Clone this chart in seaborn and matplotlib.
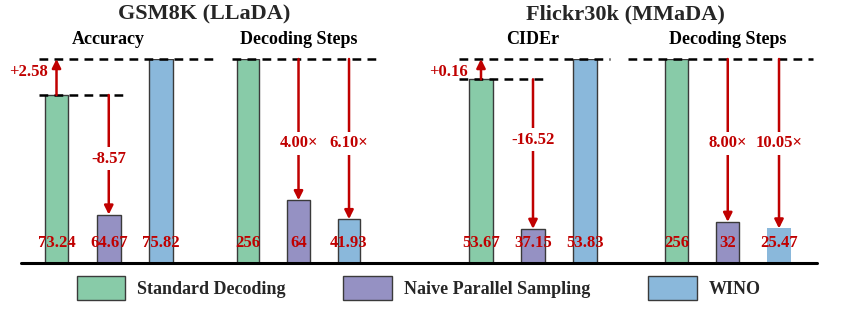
import numpy as np
import matplotlib.pyplot as plt
import seaborn as sns
from matplotlib.lines import Line2D
from matplotlib.patches import Patch

methods = ["Standard Decoding", "Naive Parallel Sampling", "WINO"]
colors = ["#88CBA8", "#9591C3", "#8AB8DB"]

gsm8k_accuracy = [73.24, 64.67, 75.82]
gsm8k_steps = [256, 64, 41.93]
flickr_cider = [53.67, 37.15, 53.83]
flickr_steps = [256, 32, 25.47]

gsm8k_speedup = ["4.00×", "6.10×"]
flickr_speedup = ["8.00×", "10.05×"]

RED = "#C00000"
W, H = 841, 315

sns.set_theme(style="white")
plt.rcParams["font.family"] = ["Liberation Serif", "DejaVu Serif"]
plt.rcParams["font.weight"] = "bold"

fig = plt.figure(figsize=(W / 100, H / 100), dpi=100)


def add_panel(left, width):
    return fig.add_axes([left / W, (H - 263) / H, width / W, 204 / H])


def stretch(lo, hi, gain):
    # magnify the small gap between lo and hi so it stays readable
    def fwd(y):
        return y + (gain - 1) * np.clip(np.asarray(y) - lo, 0, hi - lo)

    def inv(y):
        y = np.asarray(y)
        top = lo + gain * (hi - lo)
        return np.where(y <= lo, y, np.where(y >= top, y - (gain - 1) * (hi - lo), lo + (y - lo) / gain))

    return fwd, inv


def power(p):
    return (lambda y: np.sign(y) * np.abs(y) ** p,
            lambda y: np.sign(y) * np.abs(y) ** (1 / p))


def bars(ax, values, ylim, xlim):
    sns.barplot(x=methods, y=values, hue=methods, palette=colors, saturation=1,
                width=0.45, edgecolor="#3a3a3a", linewidth=1, legend=False, ax=ax)
    ax.set_xlim(*xlim)
    ax.set_ylim(*ylim)
    ax.axis("off")
    tr = ax.get_xaxis_transform()
    for i, v in enumerate(values):
        ax.text(i, 0.098, f"{v:g}", transform=tr, ha="center", va="center",
                color=RED, fontsize=12, fontweight="bold", zorder=6)


def dashed(ax, y, x0, x1):
    ax.hlines(y, x0, x1, colors="black", linestyles=(0, (3.5, 2.5)), lw=1.8,
              clip_on=False, zorder=4)


def arrow(ax, x, y0, y1):
    ax.annotate("", xy=(x, y1), xytext=(x, y0), annotation_clip=False,
                arrowprops=dict(arrowstyle="-|>", color=RED, lw=1.8,
                                mutation_scale=13, shrinkA=0, shrinkB=0), zorder=5)


def mid_label(ax, x, yfrac, text):
    ax.text(x, yfrac, text, transform=ax.get_xaxis_transform(), ha="center",
            va="center", color=RED, fontsize=12, fontweight="bold", zorder=7,
            bbox=dict(facecolor="white", edgecolor="none", pad=2.5))


def side_label(ax, x, yfrac, text):
    ax.text(x, yfrac, text, transform=ax.get_xaxis_transform(), ha="right",
            va="center", color=RED, fontsize=12, fontweight="bold", zorder=7)


def subtitle(ax, text):
    ax.text(1, 1.098, text, transform=ax.get_xaxis_transform(), ha="center",
            va="center", fontsize=13, fontweight="bold", color="black")


# GSM8K accuracy
ax = add_panel(35.6, 182.9)
bars(ax, gsm8k_accuracy, (61.2, gsm8k_accuracy[2]), (-0.4, 3.1))
std, naive, wino = gsm8k_accuracy
dashed(ax, wino, -0.335, 3.03)
dashed(ax, std, -0.335, 1.37)
arrow(ax, 0, std, wino)
side_label(ax, -0.16, 0.936, f"+{wino - std:.2f}")
arrow(ax, 1, std, naive)
mid_label(ax, 1, 0.51, f"{naive - std:.2f}")
subtitle(ax, "Accuracy")

# GSM8K decoding steps
ax = add_panel(227.8, 159.1)
ax.set_yscale("function", functions=power(0.85))
bars(ax, gsm8k_steps, (0, gsm8k_steps[0]), (-0.4, 2.75))
dashed(ax, gsm8k_steps[0], -0.32, 2.65)
for i, lab in zip([1, 2], gsm8k_speedup):
    arrow(ax, i, gsm8k_steps[0], gsm8k_steps[i])
    mid_label(ax, i, 0.588, lab)
subtitle(ax, "Decoding Steps")

# Flickr30k CIDEr
ax = add_panel(455, 161.2)
std, naive, wino = flickr_cider
ax.set_yscale("function", functions=stretch(std, wino, 14))
bars(ax, flickr_cider, (33.38, wino), (-0.5, 2.6))
dashed(ax, wino, -0.42, 2.48)
dashed(ax, std, -0.42, 1.29)
arrow(ax, 0, std, wino)
side_label(ax, -0.25, 0.936, f"+{wino - std:.2f}")
arrow(ax, 1, std, naive)
mid_label(ax, 1, 0.603, f"{naive - std:.2f}")
subtitle(ax, "CIDEr")

# Flickr30k decoding steps
ax = add_panel(625.25, 192.2)
ax.set_yscale("function", functions=power(0.77))
bars(ax, flickr_steps, (0, flickr_steps[0]), (-1.0, 2.75))
ax.patches[2].set_edgecolor("none")
dashed(ax, flickr_steps[0], -0.95, 2.66)
for i, lab in zip([1, 2], flickr_speedup):
    arrow(ax, i, flickr_steps[0], flickr_steps[i])
    mid_label(ax, i, 0.588, lab)
subtitle(ax, "Decoding Steps")

fig.text(204.5 / W, 1 - 14 / H, "GSM8K (LLaDA)", ha="center", va="center",
         fontsize=16, fontweight="bold")
fig.text(625 / W, 1 - 14 / H, "Flickr30k (MMaDA)", ha="center", va="center",
         fontsize=16, fontweight="bold")

fig.add_artist(Line2D([21 / W, 817 / W], [(H - 263) / H] * 2, color="black", lw=2.2))

handles = [Patch(facecolor=c, edgecolor="#3a3a3a", linewidth=1) for c in colors]
fig.legend(handles, methods, loc="center", bbox_to_anchor=(418.5 / W, 1 - 288 / H),
           ncol=3, frameon=False, prop=dict(size=13, weight="bold"),
           handlelength=2.7, handleheight=1.6, handletextpad=0.65, columnspacing=3.2)

fig.savefig("out.png", dpi=100)
